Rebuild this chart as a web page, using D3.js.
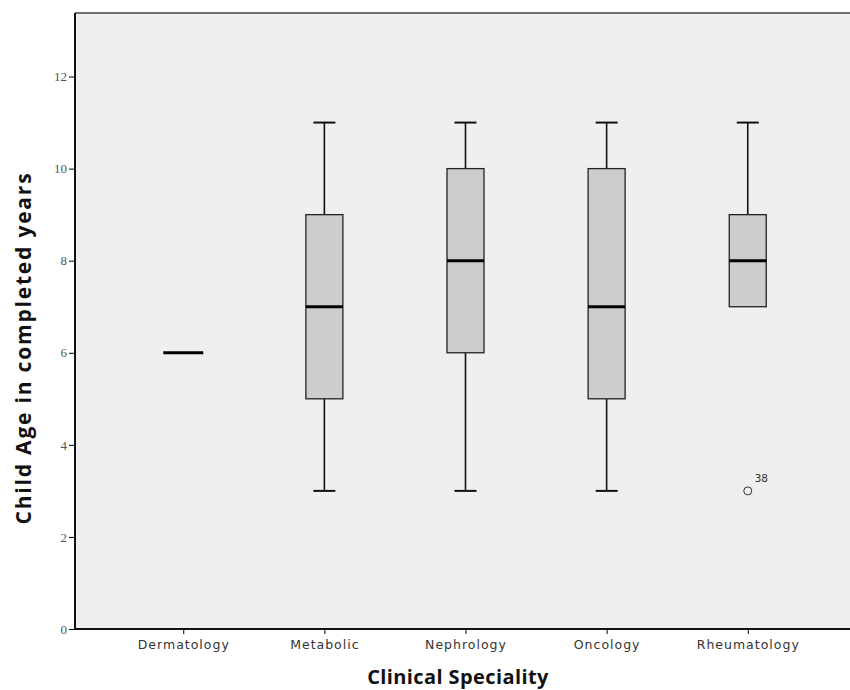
<!DOCTYPE html>
<html>
<head>
<meta charset="utf-8">
<script src="https://cdn.jsdelivr.net/npm/d3@7"></script>
<style>
  body { margin: 0; background: #fff; }
  svg { display: block; }
</style>
</head>
<body>
<svg id="chart" width="850" height="690"></svg>
<script>
// boxplot summaries per speciality
var categories = ["Dermatology", "Metabolic", "Nephrology", "Oncology", "Rheumatology"];
var lowWhisker = [6, 3, 3, 3, 7];
var q1 = [6, 5, 6, 5, 7];
var median = [6, 7, 8, 7, 8];
var q3 = [6, 9, 10, 10, 9];
var highWhisker = [6, 11, 11, 11, 11];
var outliers = [{ cat: "Rheumatology", value: 3, label: "38" }];
var yTicks = [0, 2, 4, 6, 8, 10, 12];

var svg = d3.select("#chart");
var plotLeft = 75, plotRight = 856, plotTop = 13, plotBottom = 629;

var x = d3.scalePoint()
	.domain(categories)
	.range([plotLeft, plotRight])
	.padding(0.767);

var y = d3.scaleLinear()
	.domain([0, 13.38])
	.range([plotBottom, plotTop]);

var data = categories.map(function(c, i) {
	return { cat: c, lo: lowWhisker[i], q1: q1[i], med: median[i], q3: q3[i], hi: highWhisker[i] };
});

// plot background
svg.append("rect")
	.attr("x", plotLeft).attr("y", plotTop)
	.attr("width", 850 - plotLeft).attr("height", plotBottom - plotTop)
	.attr("fill", "#efefef");

svg.append("line")
	.attr("x1", plotLeft).attr("x2", 850)
	.attr("y1", plotTop).attr("y2", plotTop)
	.attr("stroke", "#6e6e6e").attr("stroke-width", 2);

var boxW = 37, capW = 22;

var g = svg.selectAll(".box")
	.data(data)
	.enter().append("g")
	.attr("class", "box");

// whiskers + boxes
g.filter(function(d) { return d.hi > d.lo; }).each(function(d) {
	var s = d3.select(this), cx = x(d.cat);
	s.append("line")
		.attr("x1", cx).attr("x2", cx)
		.attr("y1", y(d.hi)).attr("y2", y(d.q3))
		.attr("stroke", "#111").attr("stroke-width", 1.6);
	s.append("line")
		.attr("x1", cx).attr("x2", cx)
		.attr("y1", y(d.q1)).attr("y2", y(d.lo))
		.attr("stroke", "#111").attr("stroke-width", 1.6);
	[d.hi, d.lo].forEach(function(v) {
		if (v === d.q1 || v === d.q3) return;
		s.append("line")
			.attr("x1", cx - capW / 2).attr("x2", cx + capW / 2)
			.attr("y1", y(v)).attr("y2", y(v))
			.attr("stroke", "#111").attr("stroke-width", 2);
	});
	s.append("rect")
		.attr("x", cx - boxW / 2).attr("y", y(d.q3))
		.attr("width", boxW).attr("height", y(d.q1) - y(d.q3))
		.attr("fill", "#cdcdcd")
		.attr("stroke", "#222").attr("stroke-width", 1.3);
});

// medians
g.append("line")
	.attr("x1", function(d) { return x(d.cat) - (d.hi > d.lo ? boxW : 40) / 2; })
	.attr("x2", function(d) { return x(d.cat) + (d.hi > d.lo ? boxW : 40) / 2; })
	.attr("y1", function(d) { return y(d.med); })
	.attr("y2", function(d) { return y(d.med); })
	.attr("stroke", "#000").attr("stroke-width", 3);

// outliers
svg.selectAll(".outlier")
	.data(outliers)
	.enter().append("circle")
	.attr("class", "outlier")
	.attr("cx", function(d) { return x(d.cat); })
	.attr("cy", function(d) { return y(d.value); })
	.attr("r", 4)
	.attr("fill", "none").attr("stroke", "#333").attr("stroke-width", 1);

svg.selectAll(".olabel")
	.data(outliers)
	.enter().append("text")
	.attr("class", "olabel")
	.attr("x", function(d) { return x(d.cat) + 7; })
	.attr("y", function(d) { return y(d.value) - 9; })
	.attr("font-family", "DejaVu Sans Mono, monospace")
	.attr("font-size", 11)
	.attr("fill", "#333")
	.text(function(d) { return d.label; });

// axes
var yAxis = svg.append("g")
	.attr("transform", "translate(" + plotLeft + ",0)")
	.call(d3.axisLeft(y).tickValues(yTicks).tickSize(6).tickPadding(2));
yAxis.select(".domain").attr("stroke", "#111").attr("stroke-width", 2)
	.attr("d", "M0," + plotTop + "V" + plotBottom);
yAxis.selectAll("text")
	.attr("font-family", "Liberation Serif, serif")
	.attr("font-size", 13)
	.attr("fill", "#555");

var xAxis = svg.append("g")
	.attr("transform", "translate(0," + plotBottom + ")")
	.call(d3.axisBottom(x).tickSize(5).tickPadding(6));
xAxis.select(".domain").attr("stroke", "#111").attr("stroke-width", 2)
	.attr("d", "M" + plotLeft + ",0H850");
xAxis.selectAll("text")
	.attr("font-family", "DejaVu Sans, sans-serif")
	.attr("font-size", 12.5)
	.attr("letter-spacing", 1)
	.attr("fill", "#333");

// titles
svg.append("text")
	.attr("transform", "translate(31,348) rotate(-90)")
	.attr("text-anchor", "middle")
	.attr("font-family", "Open Sans, sans-serif")
	.attr("font-weight", "bold")
	.attr("font-size", 21)
	.attr("letter-spacing", 1.8)
	.attr("fill", "#111")
	.text("Child Age in completed years");

svg.append("text")
	.attr("x", 458).attr("y", 684)
	.attr("text-anchor", "middle")
	.attr("font-family", "Open Sans, sans-serif")
	.attr("font-weight", "bold")
	.attr("font-size", 20)
	.attr("letter-spacing", 0.4)
	.attr("fill", "#111")
	.text("Clinical Speciality");
</script>
</body>
</html>
